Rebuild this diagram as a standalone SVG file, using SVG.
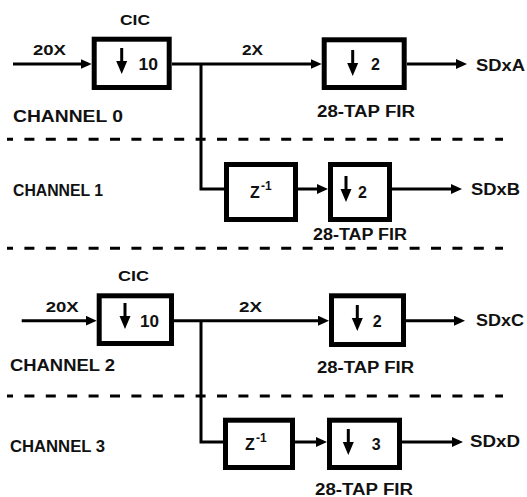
<svg xmlns="http://www.w3.org/2000/svg" width="527" height="497" viewBox="0 0 527 497">
<style>
text{font-family:"Liberation Sans",Arial,sans-serif;font-weight:bold;fill:#111}
.box{fill:#fff;stroke:#000;stroke-width:5}
.ln{fill:none;stroke:#000;stroke-width:3}
.ar{marker-end:url(#ah)}
.dash{stroke:#000;stroke-width:3;stroke-dasharray:10 11.4;stroke-dashoffset:4}
.s14{font-size:15px}.s15{font-size:15px}.s16{font-size:16px}.s17{font-size:17px}.sup{font-size:12px}
</style>
<defs>
<marker id="ah" markerUnits="userSpaceOnUse" markerWidth="12" markerHeight="11" refX="6" refY="5" orient="auto">
<path d="M0,0 L11,5 L0,10 z" fill="#000"/>
</marker>
<g id="dn"><line x1="0" y1="0" x2="0" y2="15" stroke="#000" stroke-width="3"/><polygon points="-5.5,13 5.5,13 0,26" fill="#000"/></g>
</defs>
<rect width="527" height="497" fill="#fff"/>
<g id="separators">
<line class="dash" x1="7" y1="139.3" x2="503" y2="139.3"/>
<line class="dash" x1="7" y1="248.3" x2="503" y2="248.3"/>
<line class="dash" x1="7" y1="396" x2="503" y2="396"/>
</g>
<g id="connectors">
<path class="ln ar" d="M13,64 H86.7"/>
<path class="ln ar" d="M172,64 H316.7"/>
<path class="ln" d="M201,64 V189 H226"/>
<path class="ln ar" d="M296,189 H323"/>
<path class="ln ar" d="M392,189 H457"/>
<path class="ln ar" d="M407,64 H462"/>
<path class="ln ar" d="M21.7,320.7 H91.7"/>
<path class="ln ar" d="M174,320.7 H324"/>
<path class="ln" d="M201,320.7 V442 H225"/>
<path class="ln ar" d="M295,442 H322"/>
<path class="ln ar" d="M402,442 H458"/>
<path class="ln ar" d="M406,320.7 H460"/>
</g>
<g id="labels">
<text class="s14" x="120" y="25" textLength="30" lengthAdjust="spacingAndGlyphs">CIC</text>
<text class="s14" x="33" y="55" textLength="33" lengthAdjust="spacingAndGlyphs">20X</text>
<text class="s14" x="242" y="55" textLength="21" lengthAdjust="spacingAndGlyphs">2X</text>
<text class="s17" x="13" y="122" textLength="110" lengthAdjust="spacingAndGlyphs">CHANNEL 0</text>
<text class="s16" x="13" y="196" textLength="90" lengthAdjust="spacingAndGlyphs">CHANNEL 1</text>
<text class="s14" x="118" y="281" textLength="31" lengthAdjust="spacingAndGlyphs">CIC</text>
<text class="s14" x="45.7" y="312" textLength="33" lengthAdjust="spacingAndGlyphs">20X</text>
<text class="s14" x="239" y="312" textLength="23" lengthAdjust="spacingAndGlyphs">2X</text>
<text class="s17" x="10" y="371" textLength="105" lengthAdjust="spacingAndGlyphs">CHANNEL 2</text>
<text class="s16" x="10" y="452" textLength="95" lengthAdjust="spacingAndGlyphs">CHANNEL 3</text>
<text class="s16" x="476" y="71" textLength="49" lengthAdjust="spacingAndGlyphs">SDxA</text>
<text class="s16" x="471" y="195" textLength="49" lengthAdjust="spacingAndGlyphs">SDxB</text>
<text class="s16" x="476" y="326" textLength="48" lengthAdjust="spacingAndGlyphs">SDxC</text>
<text class="s16" x="470" y="447" textLength="50" lengthAdjust="spacingAndGlyphs">SDxD</text>
</g>
<g id="cic0">
<rect class="box" x="94.2" y="39.2" width="75" height="48.3"/>
<use href="#dn" x="121.7" y="48"/>
<text class="s16" x="138.5" y="70" textLength="19.5" lengthAdjust="spacingAndGlyphs">10</text>
</g>
<g id="fir0">
<rect class="box" x="324.2" y="39.8" width="80" height="47.7"/>
<use href="#dn" x="352.7" y="50"/>
<text class="s16" x="371" y="70">2</text>
<text class="s16" x="317" y="117" textLength="98" lengthAdjust="spacingAndGlyphs">28-TAP FIR</text>
</g>
<g id="z1">
<rect class="box" x="226.5" y="164.5" width="69" height="55"/>
<text class="s16" x="250" y="198">Z</text><text class="sup" x="261" y="190">-1</text>
</g>
<g id="fir1">
<rect class="box" x="330.5" y="164.5" width="59" height="55"/>
<use href="#dn" x="346" y="176"/>
<text class="s16" x="358" y="198">2</text>
<text class="s16" x="313" y="240" textLength="94" lengthAdjust="spacingAndGlyphs">28-TAP FIR</text>
</g>
<g id="cic2">
<rect class="box" x="99.2" y="295.8" width="72.3" height="47.7"/>
<use href="#dn" x="125" y="303"/>
<text class="s16" x="140" y="327" textLength="19" lengthAdjust="spacingAndGlyphs">10</text>
</g>
<g id="fir2">
<rect class="box" x="331.5" y="295.8" width="72" height="48.7"/>
<use href="#dn" x="357.3" y="305"/>
<text class="s16" x="372.7" y="327">2</text>
<text class="s16" x="317" y="373" textLength="97" lengthAdjust="spacingAndGlyphs">28-TAP FIR</text>
</g>
<g id="z3">
<rect class="box" x="225.5" y="420.2" width="67" height="47.3"/>
<text class="s16" x="245" y="450">Z</text><text class="sup" x="256" y="442">-1</text>
</g>
<g id="fir3">
<rect class="box" x="329.5" y="420.2" width="70" height="47.3"/>
<use href="#dn" x="348.3" y="429"/>
<text class="s16" x="371.7" y="450">3</text>
<text class="s16" x="315" y="495" textLength="98" lengthAdjust="spacingAndGlyphs">28-TAP FIR</text>
</g>
</svg>
